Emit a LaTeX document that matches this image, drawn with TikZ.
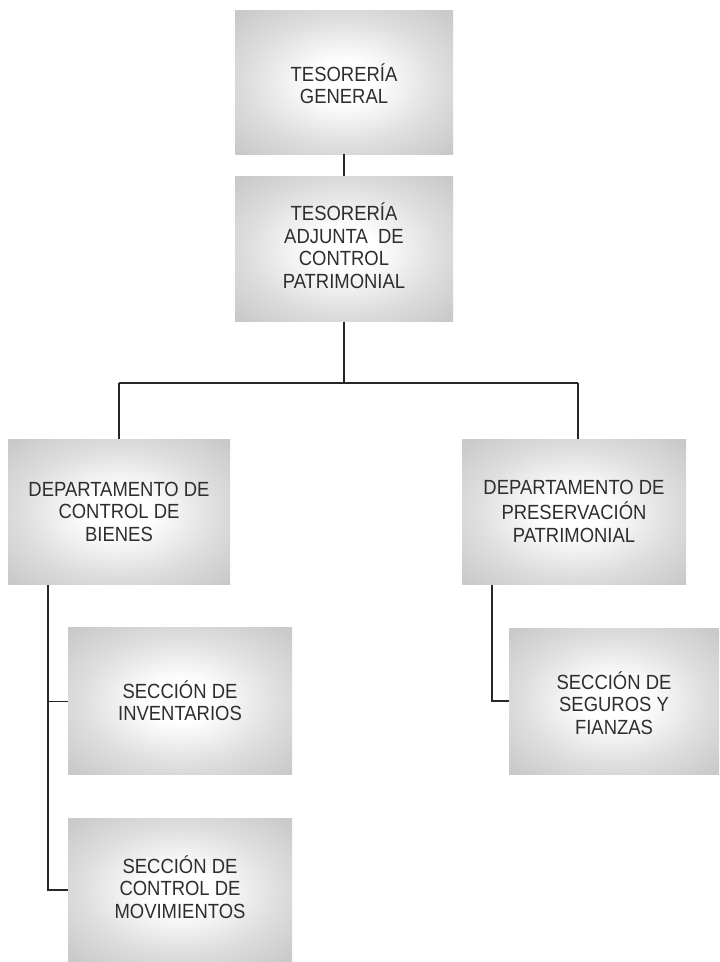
\documentclass[tikz,border=0pt]{standalone}
\usepackage{fontspec}
\setmainfont{Liberation Sans}[FakeStretch=0.9]
\pgfdeclareradialshading{softglow}{\pgfpoint{0bp}{0bp}}{%
  color(0bp)=(white); color(7bp)=(white); color(22bp)=(black!13);
  color(34bp)=(black!21); color(50bp)=(black!24)}
\newcommand{\boxtext}[2]{\raisebox{-#1}[\height][\depth]{%
  \begin{tabular}{@{}c@{}}#2\end{tabular}}}
\begin{document}
\begin{tikzpicture}[x=1pt,y=-1pt,
  orgbox/.style={draw=none, shading=softglow,
    minimum width=#1, inner sep=0pt,
    font=\fontsize{20.5}{22.5}\selectfont, text=black!82},
  orgbox/.default=220pt,
  conn/.style={draw=black!85, line width=1.1pt}]
\useasboundingbox (0,0) rectangle (720,962);
\path[fill=white] (0,0) rectangle (720,962);
% boxes
\node[orgbox=218pt, minimum height=144pt] (tg) at (344,82)
  {\boxtext{5pt}{TESORERÍA\\GENERAL}};
\node[orgbox=218pt, minimum height=145pt] (ta) at (344,249)
  {\boxtext{0pt}{TESORERÍA\\ADJUNTA~ DE\\CONTROL\\PATRIMONIAL}};
\node[orgbox=222pt, minimum height=145pt] (db) at (119,512)
  {\boxtext{2pt}{DEPARTAMENTO DE\\CONTROL DE\\BIENES}};
\node[orgbox=224pt, minimum height=145pt] (dp) at (574,512)
  {\boxtext{2pt}{DEPARTAMENTO DE\\PRESERVACIÓN\\PATRIMONIAL}};
\node[orgbox=224pt, minimum height=147pt] (si) at (180,701)
  {\boxtext{3pt}{SECCIÓN DE\\INVENTARIOS}};
\node[orgbox=224pt, minimum height=144pt] (sm) at (180,890)
  {\boxtext{0pt}{SECCIÓN DE\\CONTROL DE\\MOVIMIENTOS}};
\node[orgbox=210pt, minimum height=146pt] (ss) at (614,701)
  {\boxtext{5pt}{SECCIÓN DE\\SEGUROS Y\\FIANZAS}};
% connector coordinates
\coordinate (bus) at (344,383);
\coordinate (busl) at (119,383);
\coordinate (busr) at (578,383);
\coordinate (dbl) at (48,585);
\coordinate (dpl) at (492,585);
% connectors
\draw[conn] (tg.south) -- (ta.north);
\draw[conn] (ta.south) -- (bus);
\draw[conn] (busl) -- (busr);
\draw[conn] (busl) -- (busl |- db.north);
\draw[conn] (busr) -- (busr |- dp.north);
\draw[conn] (dbl) |- (sm.west);
\draw[conn, line width=0.7pt] (dbl |- si.west) -- (si.west);
\draw[conn] (dpl) |- (ss.west);
\end{tikzpicture}
\end{document}
